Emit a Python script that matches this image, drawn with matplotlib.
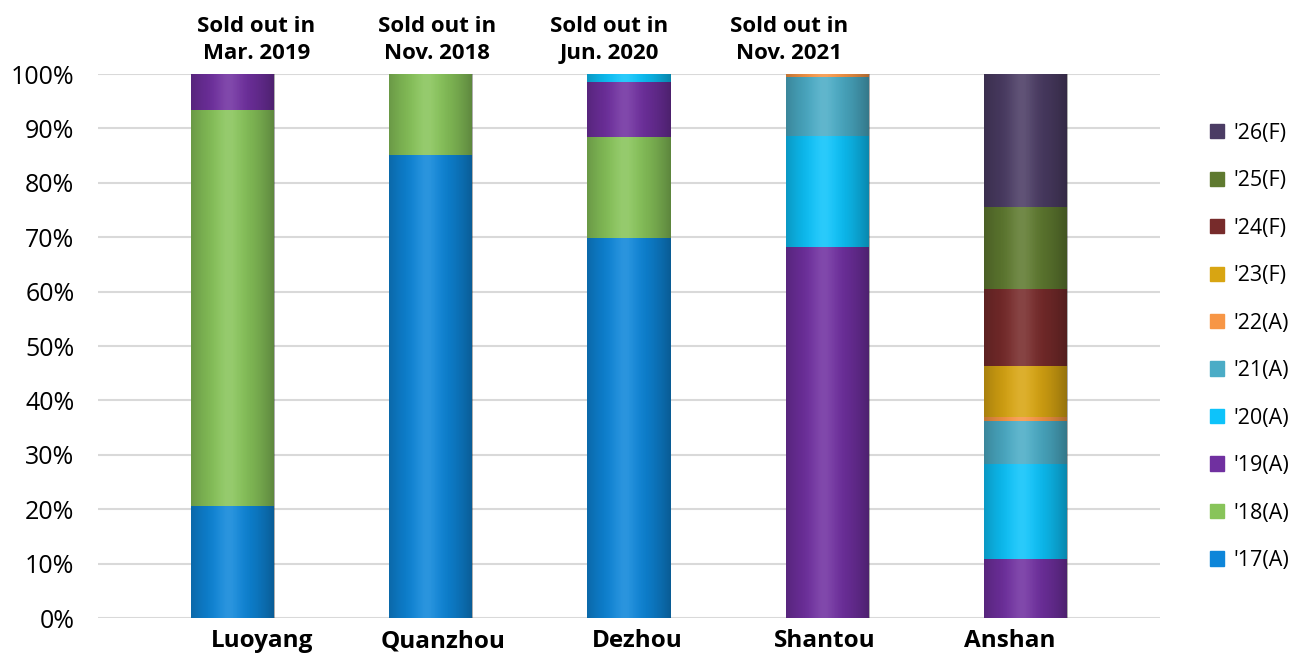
import matplotlib
matplotlib.use('Agg')
import matplotlib.pyplot as plt
import matplotlib.patches as mpatches
import matplotlib.transforms as mtransforms
import numpy as np

plt.rcParams['font.family'] = ['Open Sans', 'DejaVu Sans']

# 数据
cities = ['Luoyang', 'Quanzhou', 'Dezhou', 'Shantou', 'Anshan']
sold_out = ['Sold out in\nMar. 2019', 'Sold out in\nNov. 2018', 'Sold out in\nJun. 2020',
            'Sold out in\nNov. 2021']
years = ["'17(A)", "'18(A)", "'19(A)", "'20(A)", "'21(A)", "'22(A)",
         "'23(F)", "'24(F)", "'25(F)", "'26(F)"]
colors = ['#0e86d9', '#88c45a', '#7030a0', '#0dc3fa', '#4bacc6', '#f79646',
          '#d8a512', '#772b2b', '#5f7a30', '#4b3c64']

share_17 = [20.6, 85.2, 69.8, 0.0, 0.0]
share_18 = [72.8, 14.8, 18.6, 0.0, 0.0]
share_19 = [6.6, 0.0, 10.1, 68.2, 10.8]
share_20 = [0.0, 0.0, 1.5, 20.4, 17.5]
share_21 = [0.0, 0.0, 0.0, 10.8, 7.9]
share_22 = [0.0, 0.0, 0.0, 0.6, 0.7]
share_23 = [0.0, 0.0, 0.0, 0.0, 9.4]
share_24 = [0.0, 0.0, 0.0, 0.0, 14.2]
share_25 = [0.0, 0.0, 0.0, 0.0, 15.1]
share_26 = [0.0, 0.0, 0.0, 0.0, 24.4]
series = [share_17, share_18, share_19, share_20, share_21, share_22,
          share_23, share_24, share_25, share_26]

# 文字框的位置（原图里没有对齐柱子中心）
note_x = [0.12, 1.03, 1.90, 2.81]
city_x = [0.15, 1.06, 2.04, 2.99, 3.92]

fig = plt.figure(figsize=(12.97, 6.55), dpi=100, facecolor='white')
ax = fig.add_axes([98 / 1297, 1 - 618 / 655, (1160 - 98) / 1297, (618 - 74) / 655])

x = np.arange(len(cities))
w = 0.42
bottom = np.zeros(len(cities))
for vals, c, lab in zip(series, colors, years):
    vals = np.array(vals)
    ax.bar(x, vals, w, bottom=bottom, color=c, label=lab, zorder=2, linewidth=0)
    bottom += vals

# 圆柱效果的明暗
t = np.linspace(0, 1, 200)
dark = np.zeros((1, len(t), 4))
dark[..., 3] = 0.32 * (np.abs(t - 0.45) / 0.55) ** 1.8
light = np.ones((1, len(t), 4))
light[..., 3] = 0.12 * np.exp(-((t - 0.45) / 0.15) ** 2)
for i, tot in enumerate(bottom):
    ext = (x[i] - w / 2, x[i] + w / 2, 0, tot)
    ax.imshow(dark, extent=ext, aspect='auto', zorder=3, interpolation='bilinear')
    ax.imshow(light, extent=ext, aspect='auto', zorder=3, interpolation='bilinear')

for nx, txt in zip(note_x, sold_out):
    ax.annotate(txt, (nx, 100), xytext=(0, 7), textcoords='offset points',
                ha='center', va='bottom', fontsize=16, fontweight='bold',
                linespacing=1.4, annotation_clip=False)

trans = mtransforms.blended_transform_factory(ax.transData, ax.transAxes)
for cx, name in zip(city_x, cities):
    ax.annotate(name, (cx, 0), xycoords=trans, xytext=(0, -8), textcoords='offset points',
                ha='center', va='top', fontsize=17.5, fontweight='bold',
                annotation_clip=False)

ax.set_xlim(-0.68, 4.68)
ax.set_ylim(0, 100)
ax.set_yticks(np.arange(0, 101, 10))
ax.set_yticklabels([f'{v}%' for v in range(0, 101, 10)], fontsize=18)
ax.set_xticks([])
ax.tick_params(axis='y', length=0, pad=17)
ax.grid(axis='y', color='#d9d9d9', linewidth=1.5, zorder=0)
ax.set_axisbelow(True)
for s in ax.spines.values():
    s.set_visible(False)

handles = [mpatches.Patch(color=c, label=l) for c, l in zip(colors, years)][::-1]
fig.legend(handles=handles, loc='center left', bbox_to_anchor=(1191 / 1297, 1 - 347 / 655),
           frameon=False, fontsize=15.5, handlelength=0.65, handleheight=0.65,
           handletextpad=0.4, labelspacing=1.23)

fig.savefig('out.png', dpi=100)
